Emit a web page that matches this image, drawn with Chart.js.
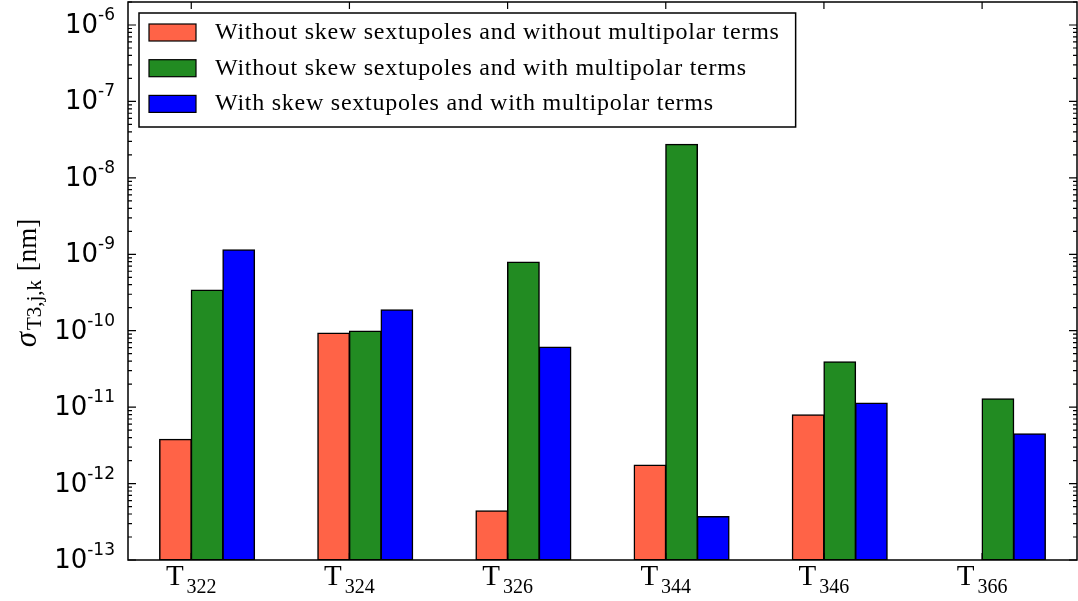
<!DOCTYPE html>
<html>
<head>
<meta charset="utf-8">
<script src="https://cdn.jsdelivr.net/npm/chart.js@4.4.1/dist/chart.umd.min.js"></script>
<style>
  html, body { margin: 0; padding: 0; background: #fff; }
  #wrap { width: 1078px; height: 601px; }
</style>
</head>
<body>
<div id="wrap"><canvas id="sigmaChart"></canvas></div>
<script>
  "use strict";

  // data
  var categories = ['322', '324', '326', '344', '346', '366'];
  var seriesLabels = [
    'Without skew sextupoles and without multipolar terms',
    'Without skew sextupoles and with multipolar terms',
    'With skew sextupoles and with multipolar terms'
  ];
  var noSkewNoMulti = [3.8e-12, 9.3e-11, 4.4e-13, 1.75e-12, 7.9e-12, null];
  var noSkewMulti = [3.4e-10, 9.9e-11, 7.9e-10, 2.75e-8, 3.9e-11, 1.28e-11];
  var skewMulti = [1.14e-9, 1.87e-10, 6.1e-11, 3.7e-13, 1.13e-11, 4.46e-12];
  var yExponents = [-13, -12, -11, -10, -9, -8, -7, -6];

  var colors = ['#ff6347', '#228b22', '#0000ff'];
  var serif = '"Liberation Serif", "Times New Roman", serif';
  var sans = '"DejaVu Sans", sans-serif';

  // axes, ticks, labels and legend drawn by hand to get the matplotlib look
  var framePlugin = {
    id: 'frame',
    afterDraw: function (chart) {
      var ctx = chart.ctx, a = chart.chartArea, x = chart.scales.x, y = chart.scales.y;
      ctx.save();
      ctx.strokeStyle = '#000';
      ctx.lineWidth = 1.5;
      ctx.strokeRect(a.left, a.top, a.right - a.left, a.bottom - a.top);

      // y ticks
      ctx.lineWidth = 1.2;
      yExponents.forEach(function (e) {
        var py = y.getPixelForValue(Math.pow(10, e));
        ctx.beginPath();
        ctx.moveTo(a.left, py); ctx.lineTo(a.left + 8, py);
        ctx.moveTo(a.right, py); ctx.lineTo(a.right - 8, py);
        ctx.stroke();
        for (var k = 2; k <= 9; k++) {
          var v = k * Math.pow(10, e);
          if (v > y.max) break;
          var pm = y.getPixelForValue(v);
          ctx.beginPath();
          ctx.moveTo(a.left, pm); ctx.lineTo(a.left + 4, pm);
          ctx.moveTo(a.right, pm); ctx.lineTo(a.right - 4, pm);
          ctx.stroke();
        }
        // label 10^e
        ctx.fillStyle = '#000';
        ctx.textAlign = 'right';
        ctx.textBaseline = 'alphabetic';
        ctx.font = '17px ' + sans;
        var ex = '-' + Math.abs(e);
        var exW = ctx.measureText(ex).width;
        ctx.fillText(ex, 115, py - 5);
        ctx.font = '26px ' + sans;
        ctx.fillText('10', 115 - exW, py + 8);
      });

      // x ticks at the left edge of the middle bar
      var mid = chart.getDatasetMeta(1).data;
      mid.forEach(function (el, i) {
        var px = el.x - el.width / 2;
        ctx.beginPath();
        ctx.moveTo(px, a.top); ctx.lineTo(px, a.top + 7);
        ctx.moveTo(px, a.bottom); ctx.lineTo(px, a.bottom - 7);
        ctx.stroke();
        ctx.textAlign = 'left';
        ctx.font = '29px ' + serif;
        var tW = ctx.measureText('T').width;
        ctx.font = '20px ' + serif;
        var sW = ctx.measureText(categories[i]).width;
        var x0 = px - (tW + sW + 3) / 2;
        ctx.font = '29px ' + serif;
        ctx.fillText('T', x0, 585);
        ctx.font = '20px ' + serif;
        ctx.fillText(categories[i], x0 + tW + 3, 593);
      });

      // y title, rotated
      ctx.save();
      ctx.translate(36, 282);
      ctx.rotate(-Math.PI / 2);
      var parts = [
        { t: '\u03c3', f: 'italic 31px ' + serif, dy: 0 },
        { t: 'T3,j,k', f: '21px ' + serif, dy: 5 },
        { t: ' [nm]', f: '27px ' + serif, dy: 0 }
      ];
      var total = 0;
      parts.forEach(function (p) { ctx.font = p.f; p.w = ctx.measureText(p.t).width; total += p.w + 2; });
      var cx = -total / 2;
      ctx.textAlign = 'left';
      parts.forEach(function (p) {
        ctx.font = p.f;
        ctx.fillText(p.t, cx, p.dy);
        cx += p.w + 2;
      });
      ctx.restore();

      // legend box
      ctx.font = '24px ' + serif;
      ctx.letterSpacing = '0.75px';
      var maxW = 0;
      seriesLabels.forEach(function (s) { maxW = Math.max(maxW, ctx.measureText(s).width); });
      var bx = a.left + 11, by = a.top + 11;
      var bw = 10 + 47 + 19 + maxW + 16, bh = 114;
      ctx.fillStyle = '#fff';
      ctx.fillRect(bx, by, bw, bh);
      ctx.lineWidth = 1.5;
      ctx.strokeRect(bx, by, bw, bh);
      seriesLabels.forEach(function (s, i) {
        var sy = by + 11 + i * 35.7;
        ctx.fillStyle = colors[i];
        ctx.fillRect(bx + 10, sy, 47, 17);
        ctx.lineWidth = 1.2;
        ctx.strokeRect(bx + 10, sy, 47, 17);
        ctx.fillStyle = '#000';
        ctx.fillText(s, bx + 10 + 47 + 19, sy + 15);
      });
      ctx.letterSpacing = '0px';
      ctx.restore();
    }
  };

  var datasets = [noSkewNoMulti, noSkewMulti, skewMulti].map(function (d, i) {
    return {
      label: seriesLabels[i],
      data: d,
      backgroundColor: colors[i],
      borderColor: '#000',
      borderWidth: 1.5,
      borderSkipped: false,
      inflateAmount: 0.6,
      categoryPercentage: 0.6,
      barPercentage: 1.0
    };
  });

  new Chart(document.getElementById('sigmaChart').getContext('2d'), {
    type: 'bar',
    data: { labels: categories, datasets: datasets },
    options: {
      responsive: true,
      maintainAspectRatio: false,
      animation: false,
      layout: { padding: { top: 2, right: 1, left: 0, bottom: 0 } },
      plugins: { legend: { display: false }, tooltip: { enabled: false } },
      scales: {
        x: {
          grid: { display: false },
          border: { display: false },
          ticks: { display: false },
          afterFit: function (s) { s.height = 41; }
        },
        y: {
          type: 'logarithmic',
          min: 1e-13,
          max: 2e-6,
          grid: { display: false },
          border: { display: false },
          ticks: { display: false },
          afterFit: function (s) { s.width = 128; }
        }
      }
    },
    plugins: [framePlugin]
  });
</script>
</body>
</html>
